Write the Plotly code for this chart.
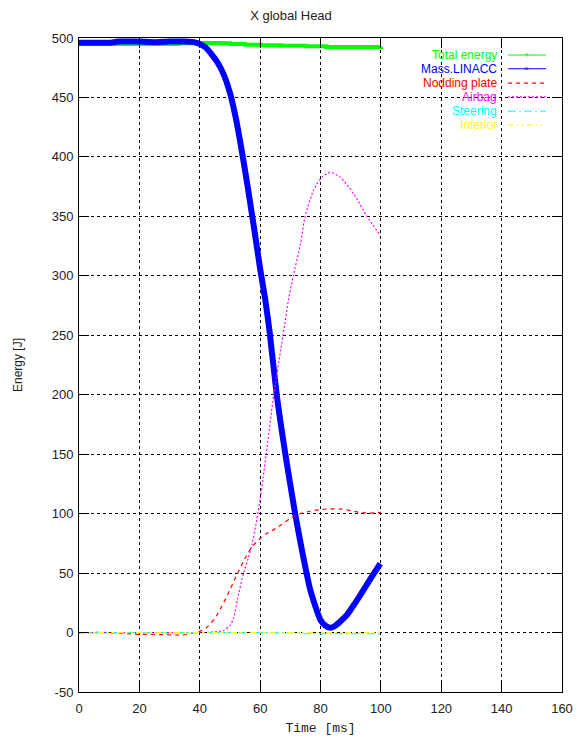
import plotly.graph_objects as go

# ---- data ----
t_total = [0, 10, 20, 33, 40, 47, 50, 55, 60, 67, 75, 82, 90, 100]
v_total = [495, 495, 495, 495.5, 495.8, 495.5, 495, 494.3, 494, 493.5, 493, 492.5, 492.5, 492.8]

t_mass = [0, 5, 10, 13, 20, 25, 30, 35, 38, 40, 42, 44, 46, 48, 50, 52, 54, 56,
          58, 60, 61.7, 63.1, 65.5, 68.3, 71.6, 73.8, 76.6, 79.9, 81.5, 83.2,
          85, 88.8, 91.5, 94.3, 97, 99.8]
v_mass = [496, 496, 496, 497, 497, 496.5, 497, 497, 496.5, 495, 492, 486, 479, 469, 454,
          432, 404, 373, 340, 306, 280, 254, 200, 151, 100, 70, 36, 11, 6, 4, 6, 15, 25,
          36, 47, 58]

t_nod = [0, 10, 16, 20, 27, 34.5, 38, 40, 42, 45, 47.3, 50, 52, 54.5, 57, 59.5, 62, 65.5,
         70, 73.3, 76.5, 80, 83, 86.5, 90, 93, 96, 100]
v_nod = [0, 0, -1, -1.5, -1.7, -2, 0, 1, 3.5, 12, 22, 36, 47, 60, 71, 78, 83, 88,
         96, 100, 102, 103.5, 104, 104, 102.5, 101, 100.5, 101]

t_air = [0, 10, 20, 30, 40, 45, 48, 50, 51.2, 52.5, 54.5, 56, 57.3, 58.9, 60, 61, 62,
         64.5, 67.6, 69.4, 71, 73.3, 74.9, 77.7, 80.5, 83.2, 86.5, 91, 95.4, 99.8]
v_air = [0, 0, 0, 0, 0, 0.5, 2, 6, 12, 28, 50, 62, 74, 95, 112, 130, 150,
         200, 250, 280, 300, 326, 350, 372, 383, 387, 383, 369, 350, 334]

t_steer = [0, 20, 40, 60, 73, 75, 80, 85, 90, 95, 100]
v_steer = [0, 0, 0, 0, 0, -1, -1, -1, -1, -1, -1]

t_int = [0, 20, 40, 60, 80, 100]
v_int = [0, 0, 0, 0, 0, 0]

series_names = ["Total energy", "Mass.LINACC", "Nodding plate", "Airbag", "Steering", "Interior"]
series_colors = ["#00ff00", "#0000ff", "#ff0000", "#ff00ff", "#00ffff", "#ffff00"]
series_dash = ["solid", "solid", "4px,4px", "2px,2px", "8px,3px,2px,3px", "6px,3px,2px,3px,2px,3px"]
series_width = [4, 6, 1.2, 1.2, 1.2, 1.2]
series_shape = ["hv", "spline", "spline", "spline", "linear", "linear"]

x_ticks = [0, 20, 40, 60, 80, 100, 120, 140, 160]
y_ticks = [-50, 0, 50, 100, 150, 200, 250, 300, 350, 400, 450, 500]

data = [(t_total, v_total), (t_mass, v_mass), (t_nod, v_nod),
        (t_air, v_air), (t_steer, v_steer), (t_int, v_int)]

fig = go.Figure()
for (tx, vy), name, col, dash, w, shp in zip(data, series_names, series_colors, series_dash,
                                             series_width, series_shape):
    line = dict(color=col, width=w, dash=dash, shape=shp)
    if shp == "spline":
        line["smoothing"] = 0.6
    fig.add_trace(go.Scatter(x=tx, y=vy, mode="lines", name=name, line=line,
                             showlegend=False))

font_main = "Liberation Sans, Arial, sans-serif"

axis_common = dict(
    showline=True, linecolor="black", linewidth=1, mirror="ticks",
    ticks="inside", ticklen=10, tickcolor="black", tickwidth=1,
    showgrid=True, gridcolor="black", gridwidth=1, griddash="dot",
    zeroline=False, automargin=False,
    tickfont=dict(family=font_main, size=13, color="#222"),
)

fig.update_xaxes(range=[0, 160], tickvals=x_ticks, ticktext=[str(v) for v in x_ticks],
                 ticklabelstandoff=4,
                 title=dict(text="Time [ms]", standoff=8,
                            font=dict(family="Liberation Mono, Courier New, monospace", size=13, color="#222")),
                 **axis_common)
fig.update_yaxes(range=[-50, 500], tickvals=y_ticks, ticktext=[str(v) for v in y_ticks],
                 ticklabelstandoff=2,
                 title=dict(text="Energy [J]", standoff=26,
                            font=dict(family=font_main, size=12, color="#222")),
                 **axis_common)

# legend drawn as right-aligned coloured text with line samples on the right
leg_y = [0.974, 0.953, 0.931, 0.910, 0.888, 0.867]
annotations = []
shapes = []
for name, col, dash, yy in zip(series_names, series_colors, series_dash, leg_y):
    annotations.append(dict(x=0.868, y=yy, xref="paper", yref="paper", text=name,
                            showarrow=False, xanchor="right", yanchor="middle", borderpad=0,
                            font=dict(family=font_main, size=12, color=col)))
    shapes.append(dict(type="line", xref="paper", yref="paper", x0=0.888, x1=0.967,
                       y0=yy, y1=yy, line=dict(color=col, width=1.2, dash=dash)))
annotations.append(dict(x=0.9275, y=leg_y[0], xref="paper", yref="paper", text="+",
                        showarrow=False, xanchor="center", yanchor="middle", borderpad=0,
                        font=dict(family=font_main, size=9, color=series_colors[0])))
annotations.append(dict(x=0.9275, y=leg_y[1], xref="paper", yref="paper", text="×",
                        showarrow=False, xanchor="center", yanchor="middle", borderpad=0,
                        font=dict(family=font_main, size=8, color=series_colors[1])))

fig.update_layout(
    width=582, height=740,
    margin=dict(l=79, r=20, t=38, b=48),
    paper_bgcolor="white", plot_bgcolor="white",
    title=dict(text="X global Head", x=0.5, xref="container", xanchor="center",
               y=1 - 15 / 740, yref="container", yanchor="middle",
               font=dict(family=font_main, size=13, color="#222")),
    annotations=annotations, shapes=shapes,
    showlegend=False,
)

fig.write_html("out.html")
